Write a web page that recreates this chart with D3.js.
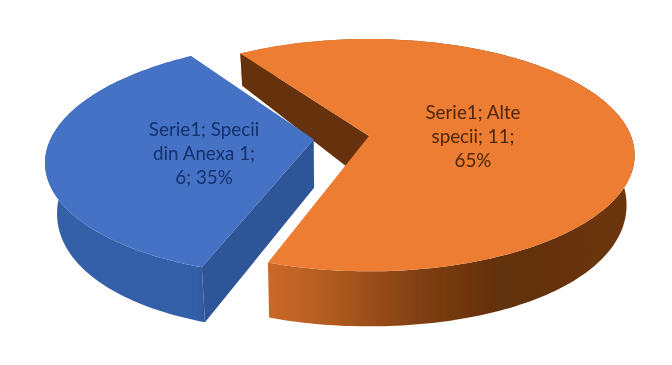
<!DOCTYPE html>
<html><head><meta charset="utf-8"><script src="https://cdn.jsdelivr.net/npm/d3@7"></script>
<style>html,body{margin:0;background:#fff}svg{display:block}</style></head><body>
<svg id="c" width="672" height="365"></svg>
<script>
const seriesName = "Serie1";
const categories = ["Specii din Anexa 1", "Alte specii"];
const values = [6, 11];
const explodes = [0.21, 0];

const svg = d3.select("#c");
const defs = svg.append("defs");
defs.append("filter").attr("id","soft").attr("x","-5%").attr("y","-5%").attr("width","110%").attr("height","110%")
  .append("feGaussianBlur").attr("stdDeviation",0.6);
function grad(id, stops){
  const g = defs.append("linearGradient").attr("id",id).attr("gradientUnits","userSpaceOnUse")
    .attr("x1",stops.x1).attr("x2",stops.x2).attr("y1",0).attr("y2",0);
  stops.c.forEach(([o,c])=>g.append("stop").attr("offset",o).attr("stop-color",c));
}
grad("wallO",{x1:271,x2:640,c:[[0,"#c9682a"],[0.12,"#b85f22"],[0.42,"#7e3d12"],[0.62,"#61300c"],[1,"#6e360e"]]});
grad("wallB",{x1:45,x2:320,c:[[0,"#3560a8"],[0.55,"#335ea8"],[0.6,"#2f5698"],[1,"#31589f"]]});

// Perspective projection of the tilted pie disk
const cx=369, cy=136, R=262, Rf=113, p=0.165;
function project(u,v,z){
  const s=1/(1-p*v);
  const depth=48+13.6*v-6.6*v*v;
  const su=u*s;
  return [cx+R*su-z*R*0.03*su*Math.abs(su), cy+Rf*v*s+z*depth];
}
const pie=d3.pie().sort(null).value(d=>d).startAngle(199*Math.PI/180).endAngle((199+360)*Math.PI/180);
const arcs=pie(values);
const line=d3.line().curve(d3.curveLinear);
function rim(a,off,z){
  const n=Math.ceil(Math.abs(a.endAngle-a.startAngle)/0.02);
  return d3.range(n+1).map(i=>{
    const t=a.startAngle+(a.endAngle-a.startAngle)*i/n;
    return project(Math.sin(t)+off,-Math.cos(t)+off*-0.14,z);
  });
}
const root=svg.append("g").attr("filter","url(#soft)");
const total=d3.sum(values);
const topColors=["#4472c4","#ed7d31"], innerColors=["#2f5597","#653009"], wallFills=["url(#wallB)","url(#wallO)"];

function drawSlice(i){
  const a=arcs[i], off=-explodes[i];
  const apexV=off*-0.14;
  const top=rim(a,off,0), bot=rim(a,off,1);
  const apexT=project(off,apexV,0), apexB=project(off,apexV,1);
  root.append("path").attr("d",line(top.concat(bot.slice().reverse()))+"Z").attr("fill",wallFills[i]);
  root.append("path").attr("d",line([apexT,top[0],bot[0],apexB])+"Z").attr("fill",innerColors[i]);
  root.append("path").attr("d",line([apexT,...top])+"Z").attr("fill",topColors[i]);
}
drawSlice(1);
drawSlice(0);

function wrap(text,max){
  const out=[];let cur="";
  text.split(" ").forEach(w=>{
    const next=cur?cur+" "+w:w;
    if(next.length>max){out.push(cur);cur=w;}else cur=next;
  });
  out.push(cur);return out;
}
const labelAt=[[204,130],[473,113]], labelColor=["#12306b","#4f2508"];
values.forEach((v,i)=>{
  const s=`${seriesName}; ${categories[i]}; ${v}; ${Math.round(v/total*100)}%`;
  const t=root.append("text").attr("text-anchor","middle").attr("font-family","Lato")
    .attr("font-size",18.8).attr("fill",labelColor[i]);
  wrap(s,14).forEach((l,j)=>t.append("tspan").attr("x",labelAt[i][0]).attr("y",labelAt[i][1]+6+j*24).text(l));
});
</script></body></html>
